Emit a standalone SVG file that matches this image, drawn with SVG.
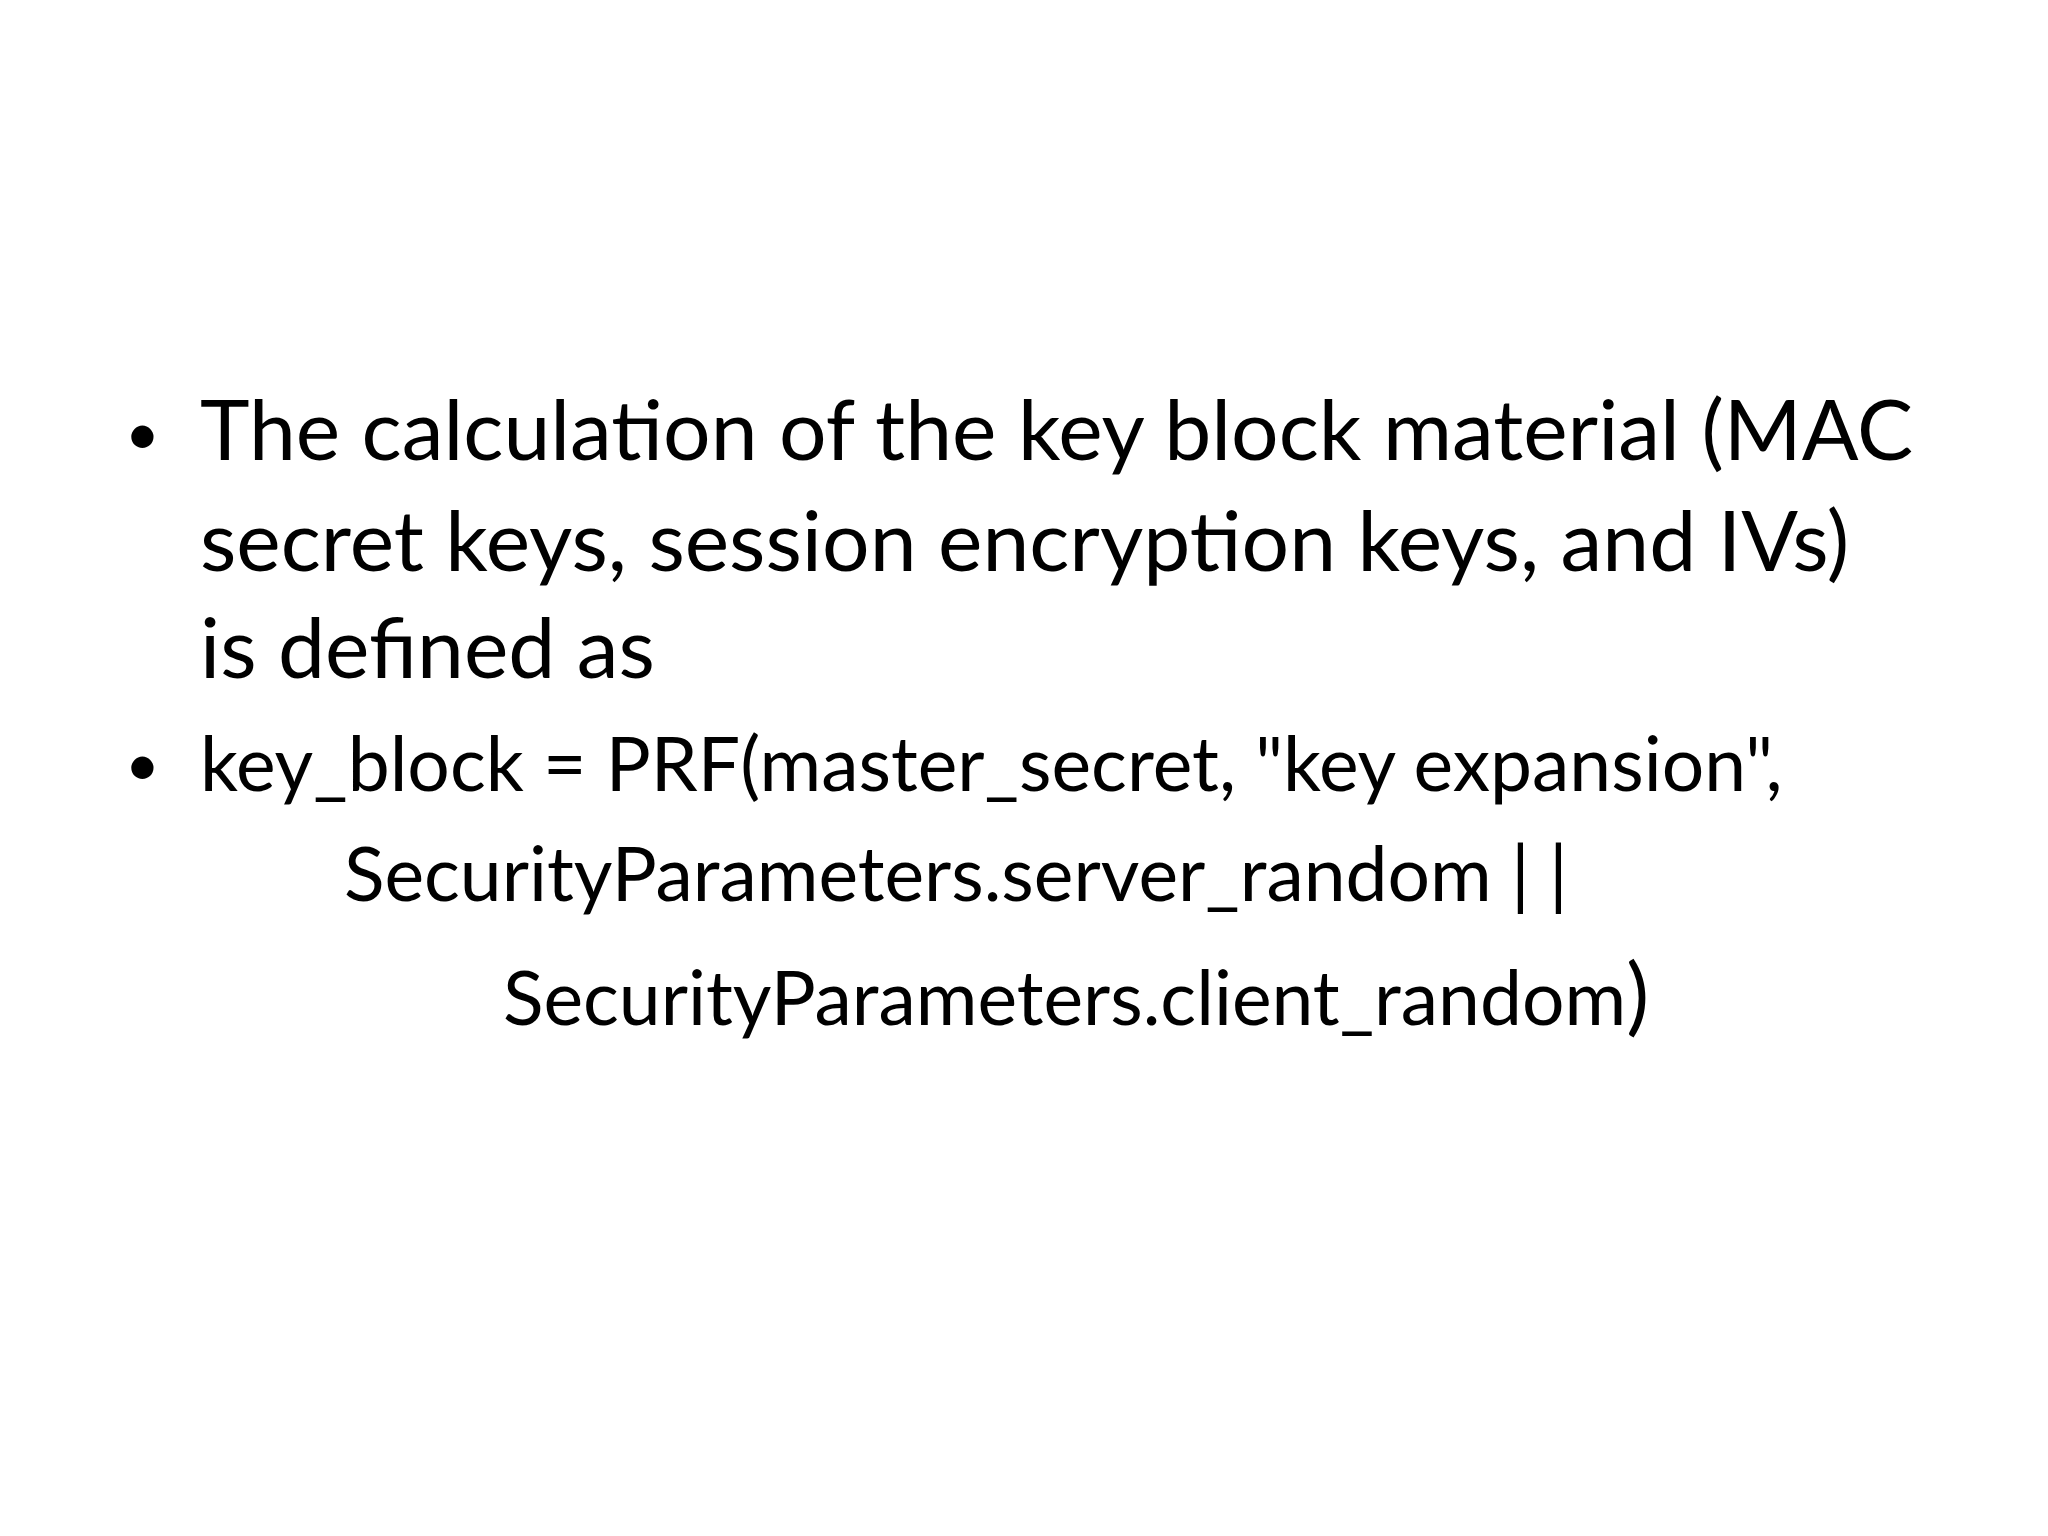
<svg xmlns="http://www.w3.org/2000/svg" width="2048" height="1536" viewBox="0 0 2048 1536">
<style>
text{font-family:Lato,"Carlito","Liberation Sans",sans-serif;fill:#000}
.a{font-size:84px}
.b{font-size:75px}
.d{font-size:60px}
</style>
<rect width="2048" height="1536" fill="#fff"/>
<g id="bullet1">
<text class="d" x="125" y="455">•</text>
<text class="a" x="200" y="460">The calculation of the key block material (MAC</text>
<text class="a" x="200" y="571">secret keys, session encryption keys, and IVs)</text>
<text class="a" x="200" y="678">is defined as</text>
</g>
<g id="bullet2">
<text class="d" x="125" y="786">•</text>
<text class="b" x="200" y="791">key_block = PRF(master_secret, "key expansion",</text>
<text class="b" x="344" y="901">SecurityParameters.server_random | |</text>
<text class="b" x="503" y="1025">SecurityParameters.client_random<tspan font-size="86">)</tspan></text>
</g>
</svg>
